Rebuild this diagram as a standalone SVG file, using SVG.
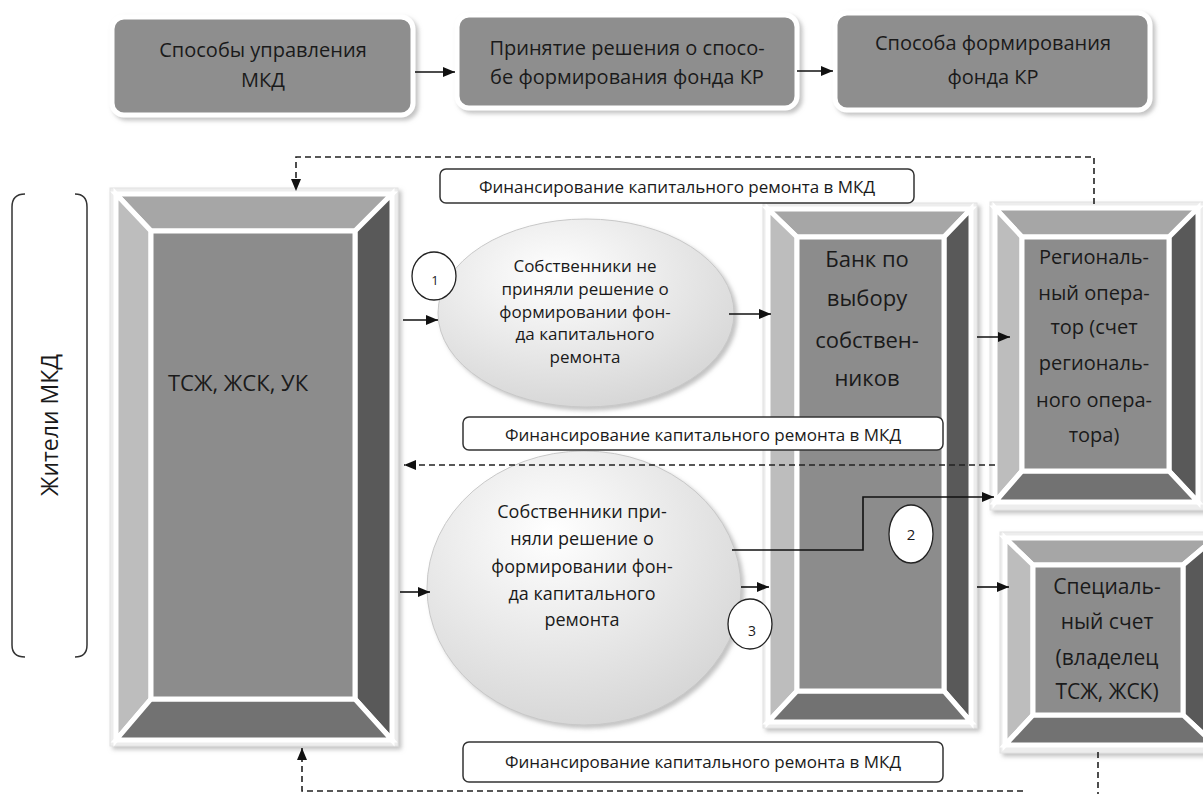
<svg xmlns="http://www.w3.org/2000/svg" width="1203" height="794" viewBox="0 0 1203 794">
<style>
text{font-family:"Open Sans","DejaVu Sans",sans-serif;fill:#1a1a1a;text-anchor:middle}
.t19{font-size:20px}
.t17{font-size:17px}
.t18{font-size:18px}
.t21{font-size:21px}
.t20{font-size:20px}
.t22{font-size:22px}
.t23{font-size:23px}
.lbl{font-size:17px}
.topbox{fill:#8e8e8e;stroke:#fff;stroke-width:5}
.frame{fill:#ededed;stroke:#e2e2e2;stroke-width:1}
.bt{fill:#a6a6a6;stroke:#fff;stroke-width:5;stroke-linejoin:miter}
.bl{fill:#bdbdbd;stroke:#fff;stroke-width:5}
.br{fill:#595959;stroke:#fff;stroke-width:5}
.bb{fill:#727272;stroke:#fff;stroke-width:5}
.face{fill:#8c8c8c;stroke:#fff;stroke-width:5}
.label{fill:#fff;stroke:#333;stroke-width:1.5}
.num{fill:#fff;stroke:#222;stroke-width:1.3}
.ell{stroke:#c8c8c8;stroke-width:1}
.sol{fill:none;stroke:#111;stroke-width:1.6}
.dash{fill:none;stroke:#222;stroke-width:1.6;stroke-dasharray:6 4}
.br2{fill:none;stroke:#333;stroke-width:1.5}
</style>
<defs>
<marker id="arr" viewBox="0 0 12 10" refX="12" refY="5" markerWidth="12" markerHeight="10" markerUnits="userSpaceOnUse" orient="auto">
<path d="M0,0 L12,5 L0,10 z" fill="#111"/>
</marker>
<radialGradient id="eg" cx="0.4" cy="0.3" r="0.8">
<stop offset="0" stop-color="#ffffff"/>
<stop offset="1" stop-color="#d2d2d2"/>
</radialGradient>
<filter id="sh" x="-10%" y="-10%" width="125%" height="130%">
<feDropShadow dx="3" dy="3" stdDeviation="2" flood-color="#999" flood-opacity="0.6"/>
</filter>
</defs>
<rect width="1203" height="794" fill="#fff"/>

<g id="top1">
<rect class="topbox" x="112" y="17" width="301" height="98" rx="12" filter="url(#sh)"/>
<text class="t19" x="263" y="57">Способы управления</text>
<text class="t19" x="263" y="87">МКД</text>
</g>
<g id="top2">
<rect class="topbox" x="457" y="15" width="340" height="93" rx="12" filter="url(#sh)"/>
<text class="t19" x="627" y="55">Принятие решения о спосо-</text>
<text class="t19" x="627" y="84">бе формирования фонда КР</text>
</g>
<g id="top3">
<rect class="topbox" x="835" y="13" width="315" height="97" rx="12" filter="url(#sh)"/>
<text class="t19" x="993" y="50">Способа формирования</text>
<text class="t19" x="993" y="84">фонда КР</text>
</g>

<g id="residents">
<path class="br2" d="M25,194 Q12,194 12,207 V645 Q12,657 25,657"/>
<path class="br2" d="M75,194 Q87,194 87,207 V645 Q87,657 75,657"/>
<text class="t23" transform="translate(58,425) rotate(-90)">Жители МКД</text>
</g>

<g id="tsj">
<rect class="frame" x="110" y="188" width="288" height="558" filter="url(#sh)"/>
<polygon class="bt" points="116,194 392,194 355,231 151,231"/>
<polygon class="bl" points="116,194 151,231 151,699 116,740"/>
<polygon class="br" points="392,194 392,740 355,699 355,231"/>
<polygon class="bb" points="116,740 151,699 355,699 392,740"/>
<rect class="face" x="151" y="231" width="204" height="468"/>
<text class="t22" x="238" y="391">ТСЖ, ЖСК, УК</text>
</g>

<g id="bank">
<rect class="frame" x="763" y="203" width="214" height="525" filter="url(#sh)"/>
<polygon class="bt" points="768,209 971,209 944,237 797,237"/>
<polygon class="bl" points="768,209 797,237 797,691 768,722"/>
<polygon class="br" points="971,209 971,722 944,691 944,237"/>
<polygon class="bb" points="768,722 797,691 944,691 971,722"/>
<rect class="face" x="797" y="237" width="147" height="454"/>
<text class="t22" x="867" y="267">Банк по</text>
<text class="t22" x="867" y="306">выбору</text>
<text class="t22" x="867" y="348">собствен-</text>
<text class="t22" x="867" y="386">ников</text>
</g>

<g id="regional">
<rect class="frame" x="990" y="202" width="216" height="308" filter="url(#sh)"/>
<polygon class="bt" points="995,208 1198,208 1169,237 1022,237"/>
<polygon class="bl" points="995,208 1022,237 1022,471 995,502"/>
<polygon class="br" points="1198,208 1198,502 1169,471 1169,237"/>
<polygon class="bb" points="995,502 1022,471 1169,471 1198,502"/>
<rect class="face" x="1022" y="237" width="147" height="234"/>
<text class="t20" x="1094" y="264">Региональ-</text>
<text class="t20" x="1094" y="300">ный опера-</text>
<text class="t20" x="1094" y="334">тор (счет</text>
<text class="t20" x="1094" y="370">региональ-</text>
<text class="t20" x="1094" y="407">ного опера-</text>
<text class="t20" x="1094" y="442">тора)</text>
</g>

<g id="special">
<rect class="frame" x="1000" y="532" width="220" height="221" filter="url(#sh)"/>
<polygon class="bt" points="1005,538 1215,538 1183,565 1033,565"/>
<polygon class="bl" points="1005,538 1033,565 1033,715 1005,745"/>
<polygon class="br" points="1215,538 1215,745 1183,715 1183,565"/>
<polygon class="bb" points="1005,745 1033,715 1183,715 1215,745"/>
<rect class="face" x="1033" y="565" width="150" height="150"/>
<text class="t21" x="1107" y="594">Специаль-</text>
<text class="t21" x="1107" y="629">ный счет</text>
<text class="t21" x="1107" y="665">(владелец</text>
<text class="t21" x="1107" y="699">ТСЖ, ЖСК)</text>
</g>

<g id="ell1">
<ellipse class="ell" cx="586" cy="313" rx="148" ry="94" fill="url(#eg)" filter="url(#sh)"/>
<text class="t17" x="585" y="272">Собственники не</text>
<text class="t17" x="585" y="295">приняли решение о</text>
<text class="t17" x="585" y="318">формировании фон-</text>
<text class="t17" x="585" y="340">да капитального</text>
<text class="t17" x="585" y="363">ремонта</text>
</g>

<g id="ell2">
<ellipse class="ell" cx="584" cy="588" rx="157" ry="137" fill="url(#eg)" filter="url(#sh)"/>
<text class="t18" x="582" y="518">Собственники при-</text>
<text class="t18" x="582" y="545">няли решение о</text>
<text class="t18" x="582" y="573">формировании фон-</text>
<text class="t18" x="582" y="600">да капитального</text>
<text class="t18" x="582" y="626">ремонта</text>
</g>

<g id="label1">
<rect class="label" x="440" y="169" width="474" height="34" rx="6"/>
<text class="lbl" x="677" y="193">Финансирование капитального ремонта в МКД</text>
</g>
<g id="label2">
<rect class="label" x="463" y="417" width="480" height="33" rx="6"/>
<text class="lbl" x="703" y="441">Финансирование капитального ремонта в МКД</text>
</g>
<g id="label3">
<rect class="label" x="463" y="742" width="480" height="40" rx="6"/>
<text class="lbl" x="703" y="768">Финансирование капитального ремонта в МКД</text>
</g>

<g id="connectors">
<path class="sol" d="M415,72 H455" marker-end="url(#arr)"/>
<path class="sol" d="M797,71 H833" marker-end="url(#arr)"/>
<path class="sol" d="M403,320 H438" marker-end="url(#arr)"/>
<path class="sol" d="M729,314 H771" marker-end="url(#arr)"/>
<path class="sol" d="M977,337 H1010" marker-end="url(#arr)"/>
<path class="sol" d="M977,587 H1009" marker-end="url(#arr)"/>
<path class="sol" d="M400,592 H430" marker-end="url(#arr)"/>
<path class="sol" d="M741,587 H769" marker-end="url(#arr)"/>
<path class="sol" d="M732,550 H863 V497 H994" marker-end="url(#arr)"/>
<path class="dash" d="M1094,204 V157 H296 V191" marker-end="url(#arr)"/>
<path class="dash" d="M995,465 H404" marker-end="url(#arr)"/>
<path class="dash" d="M1098,752 V794"/>
<path class="dash" d="M1023,791 H302 V748" marker-end="url(#arr)"/>
</g>

<g id="n1">
<ellipse class="num" cx="434" cy="276" rx="22" ry="24"/>
<text x="435" y="285" style="font-size:13px">1</text>
</g>
<g id="n2">
<ellipse class="num" cx="911" cy="534" rx="22" ry="29"/>
<text x="911" y="540" style="font-size:15px">2</text>
</g>
<g id="n3">
<ellipse class="num" cx="750" cy="624" rx="22" ry="25"/>
<text x="752" y="636" style="font-size:14px">3</text>
</g>
</svg>
